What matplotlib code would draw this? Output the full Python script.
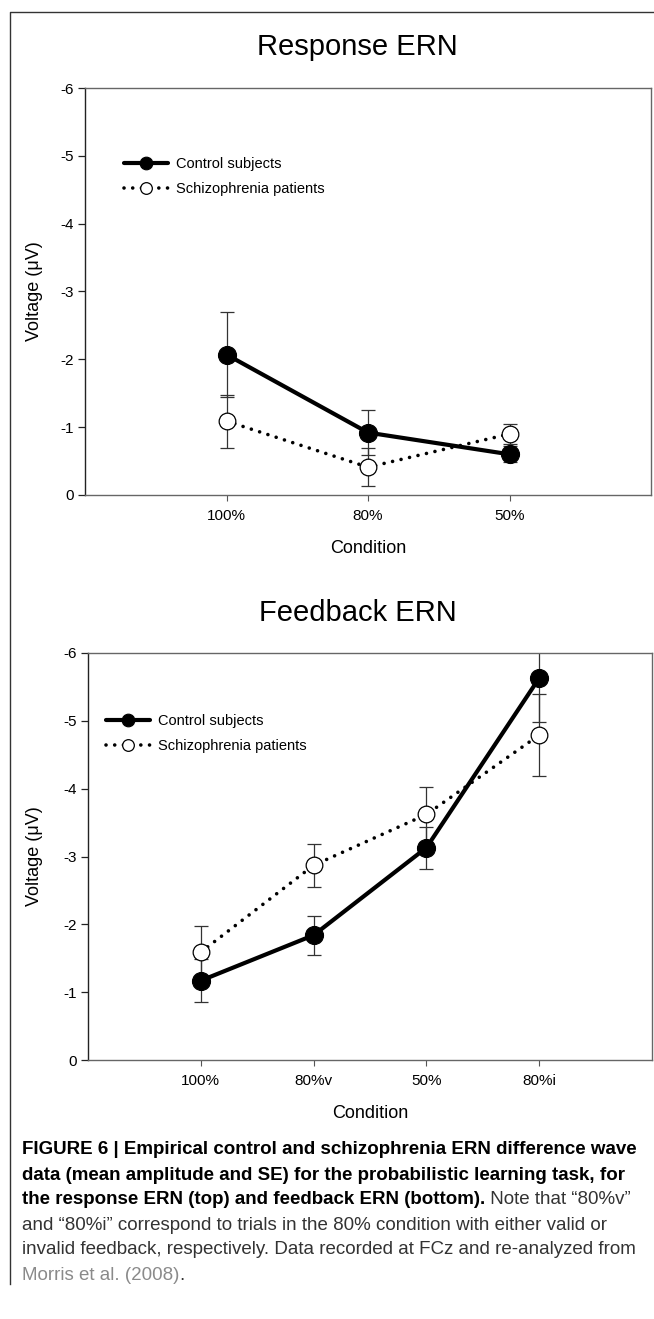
import matplotlib
matplotlib.use('Agg')
import matplotlib.pyplot as plt
from matplotlib.lines import Line2D

plt.rcParams['font.family'] = ['Liberation Sans', 'DejaVu Sans']
plt.rcParams['axes.unicode_minus'] = False

# Response ERN (top)
resp_conditions = ['100%', '80%', '50%']
resp_control = [-2.07, -0.92, -0.60]
resp_control_se = [0.63, 0.33, 0.12]
resp_patients = [-1.09, -0.41, -0.90]
resp_patients_se = [0.39, 0.28, 0.15]

# Feedback ERN (bottom)
fb_conditions = ['100%', '80%v', '50%', '80%i']
fb_control = [-1.17, -1.84, -3.13, -5.63]
fb_control_se = [0.32, 0.285, 0.31, 0.65]
fb_patients = [-1.59, -2.87, -3.62, -4.79]
fb_patients_se = [0.39, 0.32, 0.41, 0.60]

yticks = [0, -1, -2, -3, -4, -5, -6]
series_labels = ['Control subjects', 'Schizophrenia patients']

W, H = 654, 1319
fig = plt.figure(figsize=(W / 100, H / 100), dpi=100)


def px_box(left, top, right, bottom):
    return [left / W, 1 - bottom / H, (right - left) / W, (bottom - top) / H]


def draw_panel(ax, conds, ctrl, ctrl_se, pat, pat_se, legend_xy):
    x = list(range(1, len(conds) + 1))
    ax.errorbar(x, ctrl, yerr=ctrl_se, fmt='none', ecolor='#333333',
                elinewidth=0.9, capsize=4.7, capthick=0.9, zorder=2)
    ax.errorbar(x, pat, yerr=pat_se, fmt='none', ecolor='#333333',
                elinewidth=0.9, capsize=4.7, capthick=0.9, zorder=2)
    l1, = ax.plot(x, ctrl, color='black', lw=3, marker='o', ms=13,
                  mfc='black', mec='black', mew=0.8, zorder=4,
                  solid_capstyle='round')
    l2, = ax.plot(x, pat, color='black', lw=2.6, ls=(0, (0.01, 2.4)),
                  dash_capstyle='round', marker='o', ms=12, mfc='white',
                  mec='black', mew=0.9, zorder=3)
    ax.set_xlim(0, len(conds) + 1)
    ax.set_ylim(0, -6)
    ax.set_yticks(yticks)
    ax.set_yticklabels([str(v) for v in yticks])
    ax.set_xticks(x)
    ax.set_xticklabels(conds)
    ax.tick_params(axis='y', direction='out', length=5, width=0.9,
                   labelsize=11, pad=3, color='#222222')
    ax.tick_params(axis='x', direction='out', length=4, width=0.8,
                   labelsize=11, pad=6, color='#555555')
    ax.spines['left'].set_color('#222222')
    for s in ['bottom', 'top', 'right']:
        ax.spines[s].set_color('#666666')
    for s in ax.spines.values():
        s.set_linewidth(1.0)
    ax.set_xlabel('Condition', fontsize=13, labelpad=12)
    ax.set_ylabel('Voltage (\u03bcV)', fontsize=13)
    leg = ax.legend([l1, l2], series_labels, loc='upper left',
                    bbox_to_anchor=(legend_xy[0] / W, 1 - legend_xy[1] / H),
                    bbox_transform=fig.transFigure, frameon=False,
                    fontsize=10.5, handlelength=3.0, handletextpad=0.6,
                    labelspacing=0.75, borderpad=0, borderaxespad=0,
                    markerscale=0.7)
    return leg


ax1 = fig.add_axes(px_box(85, 88, 651, 495))
draw_panel(ax1, resp_conditions, resp_control, resp_control_se,
           resp_patients, resp_patients_se, (124, 157))
ax1.yaxis.set_label_coords(-0.075, 0.5)
fig.text(357 / W, 1 - 47 / H, 'Response ERN', fontsize=21,
         ha='center', va='center')

ax2 = fig.add_axes(px_box(88, 653, 652, 1060))
draw_panel(ax2, fb_conditions, fb_control, fb_control_se,
           fb_patients, fb_patients_se, (106, 714))
ax2.yaxis.set_label_coords(-0.08, 0.5)
fig.text(358 / W, 1 - 613 / H, 'Feedback ERN', fontsize=21,
         ha='center', va='center')

# outer frame (left and top edges only)
fig.add_artist(Line2D([10 / W, 10 / W, 1.0], [1 - 1284 / H, 1 - 12 / H, 1 - 12 / H],
                      transform=fig.transFigure, color='#333333', lw=1.0))

# caption
cap_font = ['Liberation Sans Narrow', 'Liberation Sans', 'DejaVu Sans']
cap_size = 13.5
cap_x = 22 / W
line_y = [1150, 1175, 1200, 1225, 1250, 1275]
renderer = fig.canvas.get_renderer()


def cap_line(y, parts):
    x = cap_x
    for txt, weight, color in parts:
        t = fig.text(x, 1 - y / H, txt, fontsize=cap_size, family=cap_font,
                     weight=weight, color=color, ha='left', va='center')
        bb = t.get_window_extent(renderer=renderer)
        x = bb.x1 / W


cap_line(line_y[0], [('FIGURE 6 | Empirical control and schizophrenia ERN difference wave', 'bold', 'black')])
cap_line(line_y[1], [('data (mean amplitude and SE) for the probabilistic learning task, for', 'bold', 'black')])
cap_line(line_y[2], [('the response ERN (top) and feedback ERN (bottom).', 'bold', 'black'),
                     (' Note that \u201c80%v\u201d', 'normal', '#333333')])
cap_line(line_y[3], [('and \u201c80%i\u201d correspond to trials in the 80% condition with either valid or', 'normal', '#333333')])
cap_line(line_y[4], [('invalid feedback, respectively. Data recorded at FCz and re-analyzed from', 'normal', '#333333')])
cap_line(line_y[5], [('Morris et al. (2008)', 'normal', '#8a8a8a'), ('.', 'normal', '#333333')])

fig.savefig('out.png', dpi=100)
